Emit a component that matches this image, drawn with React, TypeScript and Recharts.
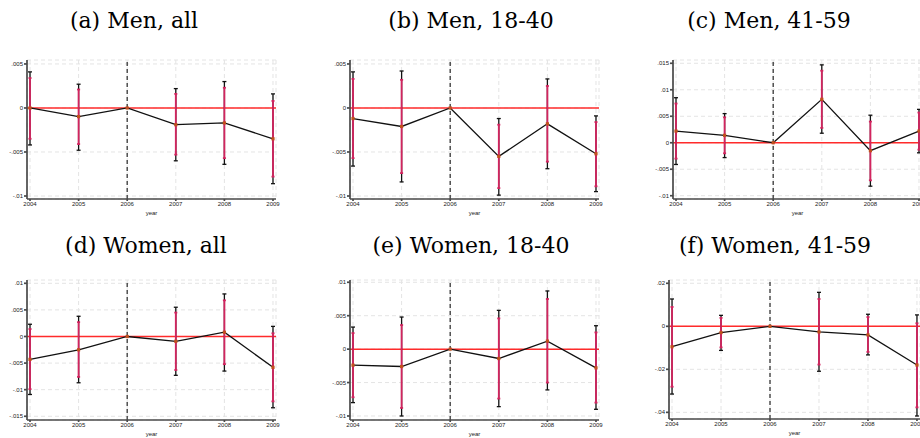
import React from "react";
import {
  ComposedChart,
  Line,
  Scatter,
  ErrorBar,
  XAxis,
  YAxis,
  CartesianGrid,
  ReferenceLine,
} from "recharts";

const years = [2004, 2005, 2006, 2007, 2008, 2009];

// (a) Men, all
const aEst = [0, -0.00098, 0, -0.0019, -0.0017, -0.0035];
const aLo95 = [-0.0042, -0.0048, null, -0.006, -0.0064, -0.0086];
const aHi95 = [0.0041, 0.0027, null, 0.0022, 0.003, 0.0016];
const aLo90 = [-0.0035, -0.0041, null, -0.0053, -0.0057, -0.0078];
const aHi90 = [0.0034, 0.0021, null, 0.0016, 0.0023, 0.0008];

// (b) Men, 18-40
const bEst = [-0.0012, -0.0021, 0, -0.0055, -0.0018, -0.0052];
const bLo95 = [-0.0066, -0.0084, null, -0.0099, -0.0069, -0.0095];
const bHi95 = [0.0041, 0.0042, null, -0.0012, 0.0033, -0.0009];
const bLo90 = [-0.0057, -0.0074, null, -0.0091, -0.0061, -0.0089];
const bHi90 = [0.0033, 0.0032, null, -0.0019, 0.0025, -0.0016];

// (c) Men, 41-59
const cEst = [0.0022, 0.0014, 0, 0.0082, -0.0015, 0.0022];
const cLo95 = [-0.0041, -0.0028, null, 0.0018, -0.0082, -0.0019];
const cHi95 = [0.0085, 0.0055, null, 0.0147, 0.0052, 0.0063];
const cLo90 = [-0.003, -0.002, null, 0.0028, -0.0071, -0.0013];
const cHi90 = [0.0074, 0.0048, null, 0.0136, 0.004, 0.0057];

// (d) Women, all
const dEst = [-0.0043, -0.0025, 0, -0.0009, 0.0008, -0.0058];
const dLo95 = [-0.0109, -0.0087, null, -0.0073, -0.0065, -0.0134];
const dHi95 = [0.0023, 0.0038, null, 0.0055, 0.008, 0.0019];
const dLo90 = [-0.0099, -0.0076, null, -0.0063, -0.0052, -0.0122];
const dHi90 = [0.0014, 0.0027, null, 0.0045, 0.0068, 0.0006];

// (e) Women, 18-40
const eEst = [-0.0024, -0.0026, 0, -0.0014, 0.0012, -0.0028];
const eLo95 = [-0.008, -0.01, null, -0.0086, -0.0061, -0.009];
const eHi95 = [0.0033, 0.0048, null, 0.0058, 0.0087, 0.0035];
const eLo90 = [-0.0072, -0.0088, null, -0.0074, -0.005, -0.008];
const eHi90 = [0.0024, 0.0036, null, 0.0046, 0.0075, 0.0025];

// (f) Women, 41-59
const fEst = [-0.0095, -0.0029, 0, -0.0026, -0.004, -0.018];
const fLo95 = [-0.0315, -0.0112, null, -0.0209, -0.0133, -0.0417];
const fHi95 = [0.0127, 0.0051, null, 0.0158, 0.0056, 0.0053];
const fLo90 = [-0.0281, -0.0098, null, -0.0178, -0.0119, -0.0377];
const fHi90 = [0.009, 0.0039, null, 0.0127, 0.0043, 0.0014];

// y tick values and labels
const ticksAB = [0.005, 0, -0.005, -0.01];
const labelsAB = [".005", "0", "-.005", "-.01"];
const ticksC = [0.015, 0.01, 0.005, 0, -0.005, -0.01];
const labelsC = [".015", ".01", ".005", "0", "-.005", "-.01"];
const ticksD = [0.01, 0.005, 0, -0.005, -0.01, -0.015];
const labelsD = [".01", ".005", "0", "-.005", "-.01", "-.015"];
const ticksE = [0.01, 0.005, 0, -0.005, -0.01];
const labelsE = [".01", ".005", "0", "-.005", "-.01"];
const ticksF = [0.02, 0, -0.02, -0.04];
const labelsF = [".02", "0", "-.02", "-.04"];

const titles = [
  "(a) Men, all",
  "(b) Men, 18-40",
  "(c) Men, 41-59",
  "(d) Women, all",
  "(e) Women, 18-40",
  "(f) Women, 41-59",
];

type N = number | null;

function buildRows(est: number[], lo95: N[], hi95: N[], lo90: N[], hi90: N[]) {
  return years.map((y, i) => ({
    year: y,
    est: est[i],
    e95:
      lo95[i] == null ? null : [est[i] - (lo95[i] as number), (hi95[i] as number) - est[i]],
    e90:
      lo90[i] == null ? null : [est[i] - (lo90[i] as number), (hi90[i] as number) - est[i]],
  }));
}

const YW = 40;
const MT = 4;
const MR = 4;
const XH = 20;

const Square = (props: any) => {
  const { cx, cy } = props;
  if (cx == null || cy == null) return <g />;
  return <rect x={cx - 1.6} y={cy - 1.6} width={3.2} height={3.2} fill="#c2501e" />;
};
const Nothing = () => <g />;

function Panel(props: {
  rows: any[];
  x0: number;
  x1: number;
  y0: number;
  y1: number;
  yDomain: [number, number];
  ticks: number[];
  labels: string[];
}) {
  const { rows, x0, x1, y0, y1, yDomain, ticks, labels } = props;
  const w = YW + (x1 - x0) + MR;
  const h = MT + (y1 - y0) + XH;
  const fmt = (v: number) => {
    const i = ticks.findIndex((t) => Math.abs(t - v) < 1e-9);
    return i >= 0 ? labels[i] : String(v);
  };
  return (
    <div style={{ position: "absolute", left: x0 - YW, top: y0 - MT, width: w, height: h }}>
      <ComposedChart
        width={w}
        height={h}
        data={rows}
        margin={{ top: MT, right: MR, left: 0, bottom: 0 }}
      >
        <CartesianGrid stroke="#e4e4e4" strokeDasharray="4 3" strokeWidth={1} />
        <XAxis
          type="number"
          dataKey="year"
          domain={[2003.938, 2009.062]}
          ticks={years}
          interval={0}
          allowDataOverflow
          height={XH}
          tickSize={2}
          tickMargin={1}
          stroke="#4a4a4a"
          strokeWidth={1.7}
          tick={{ fontSize: 6, fill: "#222", fontFamily: "Liberation Sans, Arial, sans-serif" }}
          label={{
            value: "year",
            position: "insideBottom",
            offset: 4,
            fontSize: 6,
            fill: "#222",
            fontFamily: "Liberation Sans, Arial, sans-serif",
          }}
        />
        <YAxis
          type="number"
          domain={yDomain}
          ticks={ticks}
          interval={0}
          allowDataOverflow
          width={YW}
          tickSize={3}
          tickMargin={1}
          stroke="#4a4a4a"
          strokeWidth={1.7}
          tickFormatter={fmt}
          tick={{ fontSize: 6, fill: "#222", fontFamily: "Liberation Sans, Arial, sans-serif" }}
        />
        <ReferenceLine y={0} stroke="#ff2b2b" strokeWidth={1.5} ifOverflow="hidden" />
        <ReferenceLine x={2006} stroke="#444" strokeWidth={1.4} strokeDasharray="4 3" />
        <Line
          dataKey="est"
          stroke="#111"
          strokeWidth={1.3}
          dot={false}
          activeDot={false}
          isAnimationActive={false}
        />
        <Scatter dataKey="est" shape={Nothing} isAnimationActive={false}>
          <ErrorBar dataKey="e95" direction="y" width={2} stroke="#111" strokeWidth={1.3} />
        </Scatter>
        <Scatter dataKey="est" shape={Square} isAnimationActive={false}>
          <ErrorBar dataKey="e90" direction="y" width={1.5} stroke="#d3245f" strokeWidth={1.8} />
        </Scatter>
      </ComposedChart>
    </div>
  );
}

const titleFont = "DejaVu Serif, Liberation Serif, serif";

export default function App() {
  const rowsA = buildRows(aEst, aLo95, aHi95, aLo90, aHi90);
  const rowsB = buildRows(bEst, bLo95, bHi95, bLo90, bHi90);
  const rowsC = buildRows(cEst, cLo95, cHi95, cLo90, cHi90);
  const rowsD = buildRows(dEst, dLo95, dHi95, dLo90, dHi90);
  const rowsE = buildRows(eEst, eLo95, eHi95, eLo90, eHi90);
  const rowsF = buildRows(fEst, fLo95, fHi95, fLo90, fHi90);
  const titlePos = [
    [134, 28],
    [471, 28],
    [769, 28],
    [146, 253],
    [471, 253],
    [775, 253],
  ];
  return (
    <div
      style={{
        position: "absolute",
        left: 0,
        top: 0,
        width: 920,
        height: 438,
        overflow: "hidden",
        background: "#fff",
      }}
    >
      <svg width={920} height={438} style={{ position: "absolute", left: 0, top: 0 }}>
        {titles.map((t, i) => (
          <text
            key={t}
            x={titlePos[i][0]}
            y={titlePos[i][1]}
            textAnchor="middle"
            fontFamily={titleFont}
            fontSize={22}
            fill="#000"
          >
            {t}
          </text>
        ))}
      </svg>
      <Panel rows={rowsA} x0={27} x1={276} y0={60} y1={199} yDomain={[-0.01034, 0.00545]} ticks={ticksAB} labels={labelsAB} />
      <Panel rows={rowsB} x0={350} x1={599} y0={60} y1={199} yDomain={[-0.01034, 0.00545]} ticks={ticksAB} labels={labelsAB} />
      <Panel rows={rowsC} x0={673} x1={922} y0={60} y1={199} yDomain={[-0.01062, 0.01562]} ticks={ticksC} labels={labelsC} />
      <Panel rows={rowsD} x0={27} x1={276} y0={280} y1={420} yDomain={[-0.0157, 0.01062]} ticks={ticksD} labels={labelsD} />
      <Panel rows={rowsE} x0={350} x1={599} y0={280} y1={420} yDomain={[-0.0106, 0.01034]} ticks={ticksE} labels={labelsE} />
      <Panel rows={rowsF} x0={669} x1={920} y0={280} y1={419} yDomain={[-0.0431, 0.02153]} ticks={ticksF} labels={labelsF} />
    </div>
  );
}
